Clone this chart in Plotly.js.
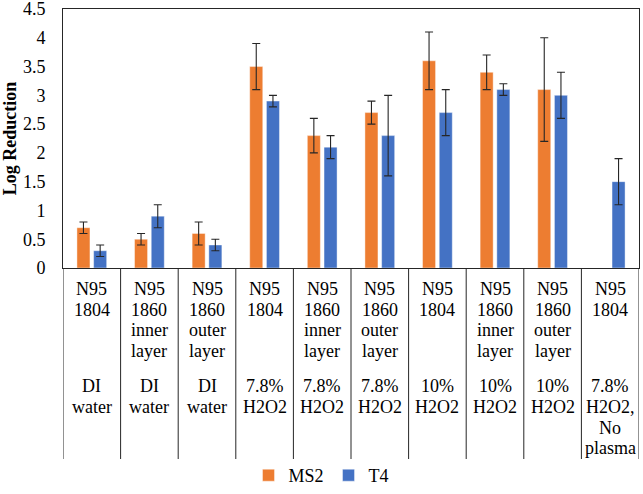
<!DOCTYPE html>
<html>
<head>
<meta charset="utf-8">
<script src="https://cdn.plot.ly/plotly-3.0.1.min.js"></script>
<style>html,body{margin:0;padding:0;background:#fff;}#chart{width:643px;height:494px;}</style>
</head>
<body>
<div id="chart"></div>
<script>
// Category labels: material (upper block) and treatment (lower block)
var materials = [
  ["N95","1804"],
  ["N95","1860","inner","layer"],
  ["N95","1860","outer","layer"],
  ["N95","1804"],
  ["N95","1860","inner","layer"],
  ["N95","1860","outer","layer"],
  ["N95","1804"],
  ["N95","1860","inner","layer"],
  ["N95","1860","outer","layer"],
  ["N95","1804"]
];
var treatments = [
  ["DI","water"],
  ["DI","water"],
  ["DI","water"],
  ["7.8%","H2O2"],
  ["7.8%","H2O2"],
  ["7.8%","H2O2"],
  ["10%","H2O2"],
  ["10%","H2O2"],
  ["10%","H2O2"],
  ["7.8%","H2O2,","No","plasma"]
];
var categories = materials.map(function(m, i){ return m.join(" ") + " | " + treatments[i].join(" "); });

var ms2Values = [0.7, 0.5, 0.6, 3.5, 2.3, 2.7, 3.6, 3.4, 3.1, null];
var ms2Errors = [0.1, 0.1, 0.2, 0.4, 0.3, 0.2, 0.5, 0.3, 0.9, null];
var t4Values  = [0.3, 0.9, 0.4, 2.9, 2.1, 2.3, 2.7, 3.1, 3.0, 1.5];
var t4Errors  = [0.1, 0.2, 0.1, 0.1, 0.2, 0.7, 0.4, 0.1, 0.4, 0.4];
var yTicks = [0, 0.5, 1, 1.5, 2, 2.5, 3, 3.5, 4, 4.5];
var yTickLabels = ["0", "0.5", "1", "1.5", "2", "2.5", "3", "3.5", "4", "4.5"];

var serif = "Liberation Serif";
var W = 643, H = 494, mL = 63, mR = 4, mT = 9, mB = 226;
var plotH = H - mT - mB;
function py(px){ return (H - mB - px) / plotH; } // pixel row -> paper y

var errStyle = {type: "data", visible: true, color: "#262626", thickness: 1.1, width: 4};

var traces = [
  {type: "bar", name: "MS2", x: categories, y: ms2Values,
   marker: {color: "#ED7D31", line: {color: "rgba(255,255,255,0.7)", width: 0.6}},
   error_y: Object.assign({array: ms2Errors}, errStyle)},
  {type: "bar", name: "T4", x: categories, y: t4Values,
   marker: {color: "#4472C4", line: {color: "rgba(255,255,255,0.7)", width: 0.6}},
   error_y: Object.assign({array: t4Errors}, errStyle)}
];

var annotations = [];
var lineStep = 20.5;
materials.forEach(function(lines, i){
  lines.forEach(function(t, k){
    annotations.push({xref: "x", yref: "paper", x: i, y: py(289.4 + k*lineStep),
      text: t, showarrow: false, xanchor: "center", yanchor: "middle",
      font: {family: serif, size: 18, color: "#000"}});
  });
});
treatments.forEach(function(lines, i){
  lines.forEach(function(t, k){
    annotations.push({xref: "x", yref: "paper", x: i, y: py(386.5 + k*lineStep),
      text: t, showarrow: false, xanchor: "center", yanchor: "middle",
      font: {family: serif, size: 18, color: "#000"}});
  });
});

var shapes = [];
for (var i = 0; i <= categories.length; i++) {
  shapes.push({type: "line", xref: "x", yref: "paper", x0: i - 0.5, x1: i - 0.5,
    y0: 0, y1: py(459), line: {color: "#262626", width: 1}});
}

var layout = {
  width: W, height: H,
  margin: {l: mL, r: mR, t: mT, b: mB, pad: 0, autoexpand: false},
  paper_bgcolor: "#fff", plot_bgcolor: "#fff",
  font: {family: serif, size: 18, color: "#000"},
  barmode: "group", bargap: 0.42, bargroupgap: 0.22,
  xaxis: {type: "category", range: [-0.5, categories.length - 0.5], showticklabels: false,
    ticks: "", showgrid: false, zeroline: false, showline: true, mirror: true,
    linecolor: "#262626", linewidth: 1, fixedrange: true},
  yaxis: {range: [0, 4.5], tickmode: "array", tickvals: yTicks, ticktext: yTickLabels,
    ticks: "", showgrid: false, zeroline: false,
    showline: true, mirror: true, linecolor: "#262626", linewidth: 1,
    ticklabelstandoff: 13, ticklabeloverflow: "allow", automargin: false,
    tickfont: {family: serif, size: 18, color: "#000"},
    title: {text: "<b>Log Reduction</b>", font: {family: serif, size: 18, color: "#000"}, standoff: 4}},
  showlegend: true,
  legend: {orientation: "h", xref: "container", yref: "container", x: 0.5, xanchor: "center",
    y: 0, yanchor: "bottom", font: {family: serif, size: 18, color: "#000"},
    itemwidth: 30, traceorder: "normal", bgcolor: "rgba(0,0,0,0)"},
  annotations: annotations,
  shapes: shapes
};

Plotly.newPlot("chart", traces, layout, {displayModeBar: false, staticPlot: true});
</script>
</body>
</html>
